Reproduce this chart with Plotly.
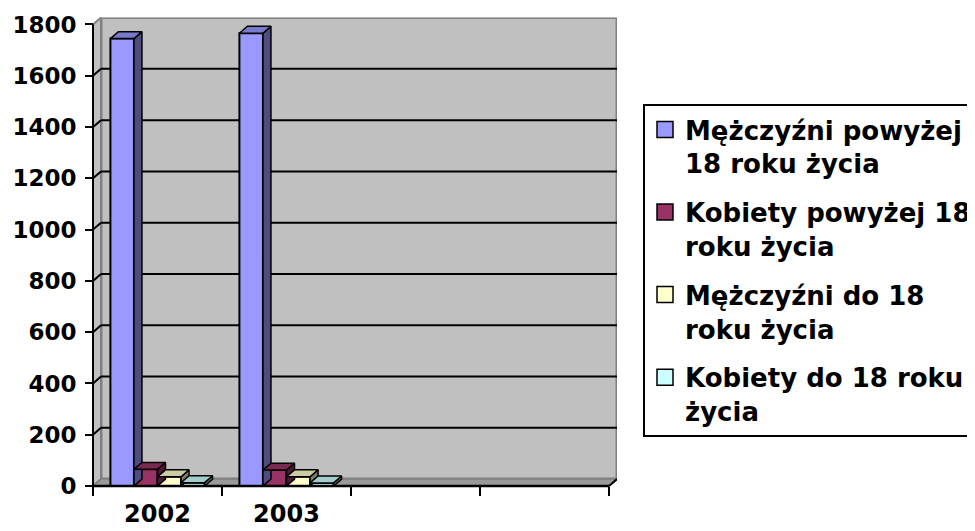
import plotly.graph_objects as go

# ---------------- data ----------------
CATEGORIES = ["2002", "2003"]
SERIES_NAMES = [
    "Mężczyźni powyżej<br>18 roku życia",
    "Kobiety powyżej 18<br>roku życia",
    "Mężczyźni do 18<br>roku życia",
    "Kobiety do 18 roku<br>życia",
]
MEN_OVER_18 = [1745, 1766]
WOMEN_OVER_18 = [65, 62]
MEN_UNDER_18 = [36, 36]
WOMEN_UNDER_18 = [13, 12]
SERIES_VALUES = [MEN_OVER_18, WOMEN_OVER_18, MEN_UNDER_18, WOMEN_UNDER_18]
N_SLOTS = 4  # category slots on the axis (two unused)
Y_TICKS = list(range(0, 1801, 200))

# ---------------- styles ----------------
FRONT = ["#9999FF", "#993366", "#FFFFCC", "#CCFFFF"]
TOP = ["#7A7ACC", "#7A2952", "#CCCCA3", "#A3CCCC"]
SIDE = ["#4D4D80", "#4D1A33", "#808066", "#668080"]
FONT = "DejaVu Sans"

OFF = 8.0                           # page body margin offset
W, H = 967, 523
X0_PX, X_UNIT_PX = 93.0 - OFF, 129.0   # pixel of x=-0.5 and px per category
Y0_PX, Y_TOP_PX = 486.0 - OFF, 24.5 - OFF
Y_PX = (Y0_PX - Y_TOP_PX) / 1800.0
DX = 0.062                          # depth offset (category units)
DY = 27.0                           # depth offset (value units)
GAP = 0.27
BW = (1 - GAP) / 4

x_lo, x_hi = -0.52, N_SLOTS - 0.5 + DX
y_lo, y_hi = -8.0, 1800 + DY
xl_px = X0_PX + (x_lo + 0.5) * X_UNIT_PX
xr_px = X0_PX + (x_hi + 0.5) * X_UNIT_PX
yb_px = Y0_PX - y_lo * Y_PX
yt_px = Y0_PX - y_hi * Y_PX

fig = go.Figure()

# 3D side and top faces (drawn first so front faces overlay correctly)
for i, vals in enumerate(SERIES_VALUES):
    sx, sy, tx, ty = [], [], [], []
    for c, v in enumerate(vals):
        xl = c - (1 - GAP) / 2 + BW * i
        xr = xl + BW
        sx += [xr, xr + DX, xr + DX, xr, xr, None]
        sy += [0, DY, v + DY, v, 0, None]
        tx += [xl, xr, xr + DX, xl + DX, xl, None]
        ty += [v, v, v + DY, v + DY, v, None]
    fig.add_trace(go.Scatter(x=sx, y=sy, mode="lines", fill="toself", fillcolor=SIDE[i],
                             line=dict(color="black", width=1.5), showlegend=False, hoverinfo="skip"))
    fig.add_trace(go.Scatter(x=tx, y=ty, mode="lines", fill="toself", fillcolor=TOP[i],
                             line=dict(color="black", width=1.5), showlegend=False, hoverinfo="skip"))

# front faces
for i, vals in enumerate(SERIES_VALUES):
    fig.add_trace(go.Bar(
        x=list(range(len(CATEGORIES))), y=vals, width=BW,
        offset=-(1 - GAP) / 2 + BW * i,
        marker=dict(color=FRONT[i], line=dict(color="black", width=2)),
        showlegend=False, name=SERIES_NAMES[i].replace("<br>", " "),
    ))

# legend entries
for i, name in enumerate(SERIES_NAMES):
    fig.add_trace(go.Scatter(
        x=[None], y=[None], mode="markers", name=name, legendgroup=f"g{i}",
        marker=dict(symbol="square", size=16, color=FRONT[i], line=dict(color="black", width=1.5)),
    ))

# ---------------- walls, floor, gridlines, axis lines ----------------
shapes = []
gray_edge = "#808080"
shapes.append(dict(type="rect", xref="x", yref="y", x0=-0.5 + DX, x1=N_SLOTS - 0.5 + DX,
                   y0=DY, y1=1800 + DY, fillcolor="#C0C0C0", line=dict(color=gray_edge, width=3), layer="below"))
shapes.append(dict(type="path", xref="x", yref="y",
                   path=f"M {-0.5},0 L {-0.5 + DX},{DY} L {-0.5 + DX},{1800 + DY} L {-0.5},1800 Z",
                   fillcolor="#C0C0C0", line=dict(color=gray_edge, width=2), layer="below"))
shapes.append(dict(type="path", xref="x", yref="y",
                   path=f"M {-0.5},0 L {N_SLOTS - 0.5},0 L {N_SLOTS - 0.5 + DX},{DY} L {-0.5 + DX},{DY} Z",
                   fillcolor="#9A9A9A", line=dict(color=gray_edge, width=1.5), layer="below"))
for v in Y_TICKS[1:-1]:
    shapes.append(dict(type="line", xref="x", yref="y", x0=-0.5 + DX, x1=N_SLOTS - 0.5 + DX,
                       y0=v + DY, y1=v + DY, line=dict(color="black", width=2), layer="below"))
    shapes.append(dict(type="line", xref="x", yref="y", x0=-0.5, x1=-0.5 + DX,
                       y0=v, y1=v + DY, line=dict(color="black", width=2), layer="below"))
shapes.append(dict(type="line", xref="x", yref="y", x0=-0.5, x1=-0.5, y0=0, y1=1800,
                   line=dict(color="black", width=2)))
shapes.append(dict(type="line", xref="x", yref="y", x0=-0.5, x1=N_SLOTS - 0.5, y0=0, y1=0,
                   line=dict(color="black", width=2.5)))
shapes.append(dict(type="line", xref="x", yref="y", x0=N_SLOTS - 0.5, x1=N_SLOTS - 0.5 + DX, y0=0, y1=DY,
                   line=dict(color="black", width=2)))

tick_font = dict(family=FONT, size=23, color="black", weight="bold")

fig.update_layout(
    width=W, height=H,
    margin=dict(l=0, r=0, t=0, b=0, autoexpand=False),
    paper_bgcolor="white", plot_bgcolor="white",
    barmode="overlay",
    shapes=shapes,
    xaxis=dict(
        domain=[xl_px / W, xr_px / W], range=[x_lo, x_hi],
        anchor="free", position=(H - Y0_PX) / H,
        showgrid=False, zeroline=False, showline=False,
        tickmode="array", tickvals=list(range(len(CATEGORIES))), ticktext=CATEGORIES,
        ticks="", ticklabelstandoff=11,
        tickfont=dict(family=FONT, size=24, color="black", weight="bold"),
        minor=dict(tickmode="array", tickvals=[k - 0.5 for k in range(N_SLOTS + 1)],
                   ticks="outside", ticklen=9, tickwidth=2, tickcolor="black", showgrid=False),
    ),
    yaxis=dict(
        domain=[(H - yb_px) / H, (H - yt_px) / H], range=[y_lo, y_hi],
        anchor="free", position=X0_PX / W,
        showgrid=False, zeroline=False, showline=False,
        tickmode="array", tickvals=Y_TICKS,
        ticks="outside", ticklen=8, tickwidth=2, tickcolor="black",
        ticklabelstandoff=4, tickfont=tick_font,
    ),
    legend=dict(
        x=(643 - OFF) / W, y=(H - (104 - OFF)) / H, xanchor="left", yanchor="top",
        bgcolor="white", bordercolor="black", borderwidth=2,
        font=dict(family=FONT, size=26, color="black", weight="bold"),
        tracegroupgap=12, valign="top", itemsizing="trace",
    ),
)

fig.write_html("out.html")
